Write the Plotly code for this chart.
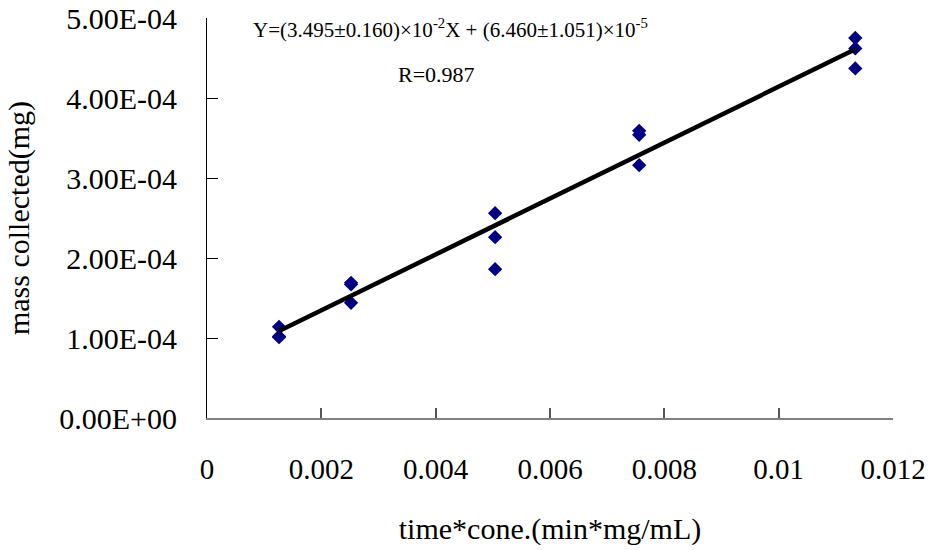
import plotly.graph_objects as go

# ---- data ----
x_conc = [0.00126, 0.00126, 0.00126,
          0.00252, 0.00252, 0.00252,
          0.00504, 0.00504, 0.00504,
          0.00756, 0.00756, 0.00756,
          0.01134, 0.01134, 0.01134]
mass = [1.14e-4, 1.02e-4, 1.01e-4,
        1.69e-4, 1.67e-4, 1.44e-4,
        2.56e-4, 2.26e-4, 1.86e-4,
        3.59e-4, 3.54e-4, 3.16e-4,
        4.75e-4, 4.62e-4, 4.37e-4]
slope = 3.495e-2
intercept = 6.460e-5
fit_x = [0.00126, 0.01134]
fit_y = [slope * v + intercept for v in fit_x]

x_tickvals = [0, 0.002, 0.004, 0.006, 0.008, 0.01, 0.012]
x_ticktext = ["0", "0.002", "0.004", "0.006", "0.008", "0.01", "0.012"]
y_tickvals = [0, 1e-4, 2e-4, 3e-4, 4e-4, 5e-4]
y_ticktext = ["0.00E+00", "1.00E-04", "2.00E-04", "3.00E-04", "4.00E-04", "5.00E-04"]

FONT = "Liberation Serif"

fig = go.Figure()
fig.add_trace(go.Scatter(
    x=x_conc, y=mass, mode="markers",
    marker=dict(symbol="diamond", size=11, color="#000080", line=dict(width=0)),
    showlegend=False,
))
fig.add_trace(go.Scatter(
    x=fit_x, y=fit_y, mode="lines",
    line=dict(color="black", width=4.5),
    showlegend=False,
))

fig.update_layout(
    width=932, height=550,
    margin=dict(l=207, r=39, t=18, b=132),
    paper_bgcolor="white", plot_bgcolor="white",
    font=dict(family=FONT, color="black"),
    xaxis=dict(
        range=[0, 0.012], tickvals=x_tickvals, ticktext=x_ticktext,
        showgrid=False, zeroline=False,
        showline=True, linecolor="#808080", linewidth=1.5,
        ticks="inside", ticklen=10, tickcolor="#555555", tickwidth=1.5,
        ticklabelstandoff=24,
        tickfont=dict(size=29, family=FONT, color="black"),
        title=dict(text="time*cone.(min*mg/mL)", font=dict(size=30, family=FONT, color="black"), standoff=34),
        automargin=False,
    ),
    yaxis=dict(
        range=[0, 5e-4], tickvals=y_tickvals, ticktext=y_ticktext,
        showgrid=False, zeroline=False,
        showline=True, linecolor="black", linewidth=1,
        ticks="inside", ticklen=11, tickcolor="black", tickwidth=1,
        ticklabelstandoff=23,
        tickfont=dict(size=30, family=FONT, color="black"),
        title=dict(text="mass collected(mg)", font=dict(size=30, family=FONT, color="black"), standoff=20),
        automargin=False,
    ),
    annotations=[
        dict(xref="paper", yref="paper", x=(251 - 207) / 686, y=(418 - 28) / 400,
             xanchor="left", yanchor="middle", showarrow=False,
             text="Y=(3.495±0.160)×10<sup>-2</sup>X + (6.460±1.051)×10<sup>-5</sup>",
             font=dict(size=21, family=FONT, color="black")),
        dict(xref="paper", yref="paper", x=(396 - 207) / 686, y=(418 - 75) / 400,
             xanchor="left", yanchor="middle", showarrow=False,
             text="R=0.987", font=dict(size=22, family=FONT, color="black")),
    ],
)

fig.write_html("out.html")
